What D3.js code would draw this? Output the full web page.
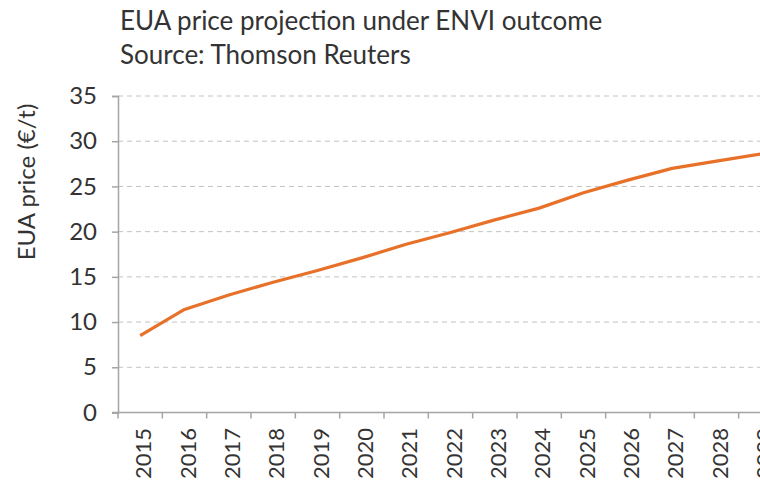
<!DOCTYPE html>
<html>
<head>
<meta charset="utf-8">
<script src="https://cdn.jsdelivr.net/npm/d3@7"></script>
<style>
  body { margin: 0; background: #fff; }
  text { font-family: "Lato", "Open Sans", sans-serif; fill: #333; }
</style>
</head>
<body>
<div id="chart"></div>
<script>
// Data
var years = ["2015", "2016", "2017", "2018", "2019", "2020", "2021", "2022",
             "2023", "2024", "2025", "2026", "2027", "2028", "2029"];
var prices = [8.5, 11.4, 13.0, 14.4, 15.7, 17.1, 18.6, 19.9,
              21.3, 22.6, 24.3, 25.7, 27.0, 27.8, 28.6];
var yTicks = [0, 5, 10, 15, 20, 25, 30, 35];

// SVG size and margins
var svgWidth = 760;
var svgHeight = 481;
var margin = { top: 96, left: 118 };
var width = 665;
var height = 316.5;

var svg = d3.select("#chart")
    .append("svg")
    .attr("width", svgWidth)
    .attr("height", svgHeight);

// titles
svg.append("text")
    .attr("x", 120).attr("y", 30)
    .style("font-size", "26px")
    .text("EUA price projection under ENVI outcome");
svg.append("text")
    .attr("x", 120).attr("y", 64)
    .style("font-size", "26px")
    .text("Source: Thomson Reuters");

var chart = svg.append("g")
    .attr("transform", `translate(${margin.left}, ${margin.top})`);

// scales
var x = d3.scaleBand().domain(years).range([0, width]);
var y = d3.scaleLinear().domain([0, 35]).range([height, 0]);

// gridlines
chart.selectAll(".grid")
    .data(yTicks.filter(d => d > 0))
    .enter()
    .append("line")
    .attr("x1", 0)
    .attr("x2", width)
    .attr("y1", d => y(d))
    .attr("y2", d => y(d))
    .attr("stroke", "#c2c2c2")
    .attr("stroke-width", 1)
    .attr("stroke-dasharray", "5,4");

// y axis
var leftAxis = d3.axisLeft(y).tickValues(yTicks).tickSize(6).tickPadding(15);
var yAxis = chart.append("g").call(leftAxis);
yAxis.select(".domain").attr("stroke", "#a5a5a5").attr("stroke-width", 1.5);
yAxis.selectAll(".tick line").attr("stroke", "#a5a5a5").attr("stroke-width", 1.5);
yAxis.selectAll("text")
    .style("font-size", "24px")
    .style("font-family", "Lato, sans-serif")
    .attr("fill", "#333");

// x axis: ticks at band edges
var xAxis = chart.append("g").attr("transform", `translate(0, ${height})`);
xAxis.append("line")
    .attr("x1", -6).attr("x2", width)
    .attr("stroke", "#a5a5a5").attr("stroke-width", 1.5);
xAxis.selectAll(".xtick")
    .data(years)
    .enter()
    .append("line")
    .attr("x1", d => x(d))
    .attr("x2", d => x(d))
    .attr("y1", 0)
    .attr("y2", 6)
    .attr("stroke", "#a5a5a5")
    .attr("stroke-width", 1.5);
xAxis.selectAll(".xlabel")
    .data(years)
    .enter()
    .append("text")
    .attr("transform", d => `translate(${x(d) + x.bandwidth() / 2 + 11}, 15.5) rotate(-90)`)
    .attr("text-anchor", "end")
    .style("font-size", "22px")
    .text(d => d);

// y label
svg.append("text")
    .attr("transform", "translate(35, 182) rotate(-90)")
    .attr("text-anchor", "middle")
    .style("font-size", "24px")
    .text("EUA price (€/t)");

// line
var line = d3.line()
    .x((d, i) => x(years[i]) + x.bandwidth() / 2)
    .y(d => y(d));

chart.append("path")
    .datum(prices)
    .attr("d", line)
    .attr("fill", "none")
    .attr("stroke", "#e8712a")
    .attr("stroke-width", 3.2)
    .attr("stroke-linejoin", "round");
</script>
</body>
</html>
